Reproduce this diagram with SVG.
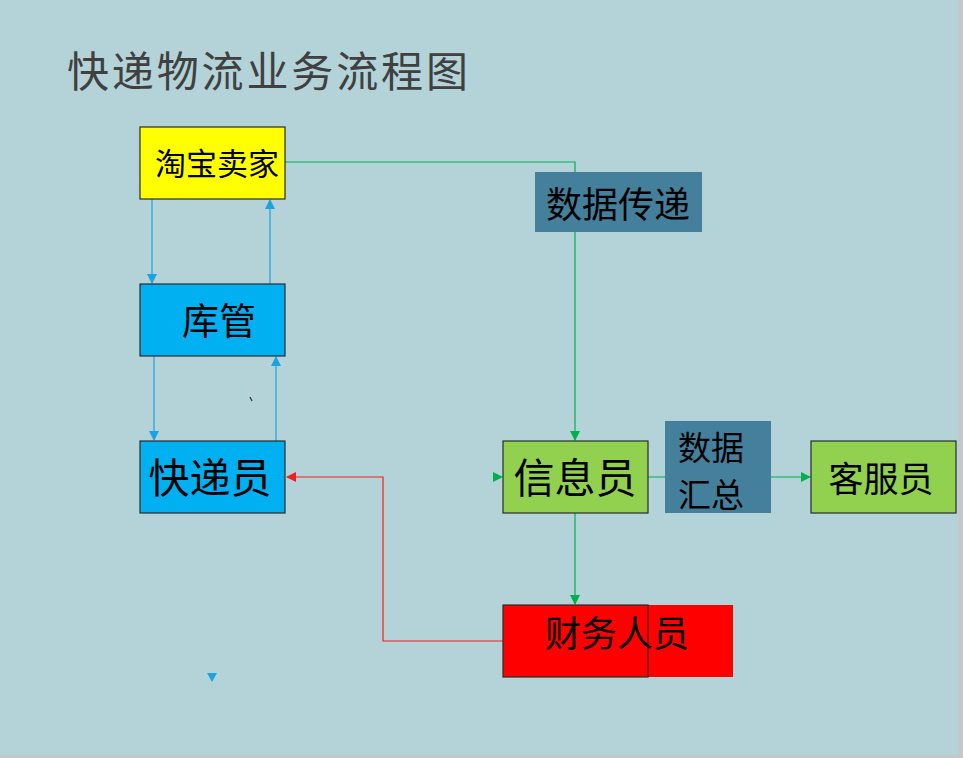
<svg xmlns="http://www.w3.org/2000/svg" width="963" height="758" viewBox="0 0 963 758">
<defs>
<style>
.t{font-family:"Noto Sans CJK SC","Noto Sans",sans-serif;fill:#000;text-anchor:middle;dominant-baseline:central}
.box{stroke:#2b2b2b;stroke-width:1.2}
.g{stroke:#00B050;stroke-width:1.2;fill:none}
.b{stroke:#1AA3E0;stroke-width:1.2;fill:none}
.r{stroke:#F02020;stroke-width:1.2;fill:none}
</style>
<marker id="ag" markerWidth="10" markerHeight="10" refX="9" refY="5" orient="auto" markerUnits="userSpaceOnUse"><path d="M0,0 L10,5 L0,10 Z" fill="#00B050"/></marker>
<marker id="ab" markerWidth="10" markerHeight="10" refX="9" refY="5" orient="auto" markerUnits="userSpaceOnUse"><path d="M0,0 L10,5 L0,10 Z" fill="#1AA3E0"/></marker>
<marker id="ar" markerWidth="10" markerHeight="10" refX="9" refY="5" orient="auto" markerUnits="userSpaceOnUse"><path d="M0,0 L10,5 L0,10 Z" fill="#F02020"/></marker>
</defs>
<rect x="0" y="0" width="963" height="758" fill="#B3D3D8"/>
<rect x="958" y="0" width="5" height="758" fill="#C4C8CA"/>
<rect x="0" y="755" width="963" height="3" fill="#C4C8CA"/>
<text x="67" y="68" font-family="'Noto Sans CJK SC',sans-serif" font-size="42" fill="#404040" dominant-baseline="central" textLength="401">快递物流业务流程图</text>

<g id="connectors">
<polyline class="g" points="285,162 575,162 575,440" marker-end="url(#ag)"/>
<line class="g" x1="648" y1="477" x2="810" y2="477" marker-end="url(#ag)"/>
<line class="g" x1="575" y1="513" x2="575" y2="604" marker-end="url(#ag)"/>
<path d="M493,472 L503,477 L493,482 Z" fill="#00B050"/>
<line class="b" x1="152" y1="199" x2="152" y2="283" marker-end="url(#ab)"/>
<line class="b" x1="270" y1="284" x2="270" y2="200" marker-end="url(#ab)"/>
<line class="b" x1="154" y1="356" x2="154" y2="440" marker-end="url(#ab)"/>
<line class="b" x1="276" y1="441" x2="276" y2="357" marker-end="url(#ab)"/>
<polyline class="r" points="503,641 383,641 383,477 287,477" marker-end="url(#ar)"/>
<path d="M207,673 L217,673 L212,682 Z" fill="#1AA3E0"/>
<line x1="250" y1="397" x2="252" y2="401" stroke="#333" stroke-width="1.2"/>
</g>

<g id="taobao">
<rect class="box" x="140" y="127" width="145" height="72" fill="#FFFF00"/>
<text class="t" x="217" y="161" font-size="31">淘宝卖家</text>
</g>
<g id="kuguan">
<rect class="box" x="140" y="284" width="145" height="72" fill="#00B0F0"/>
<text class="t" x="219" y="319" font-size="37">库管</text>
</g>
<g id="kuaidiyuan">
<rect class="box" x="140" y="441" width="145" height="72" fill="#00B0F0"/>
<text class="t" x="210" y="475" font-size="41">快递员</text>
</g>
<g id="shujuchuandi">
<rect x="535" y="172" width="167" height="60" fill="#44809C"/>
<text class="t" x="618" y="202" font-size="36">数据传递</text>
</g>
<g id="xinxiyuan">
<rect class="box" x="503" y="441" width="145" height="72" fill="#92D050"/>
<text class="t" x="575" y="475" font-size="41">信息员</text>
</g>
<g id="shujuhuizong">
<rect x="665" y="421" width="106" height="92" fill="#44809C"/>
<text class="t" x="711" y="446" font-size="33">数据</text>
<text class="t" x="711" y="493" font-size="33">汇总</text>
</g>
<g id="kefuyuan">
<rect class="box" x="811" y="441" width="145" height="72" fill="#92D050"/>
<text class="t" x="881" y="476" font-size="35">客服员</text>
</g>
<g id="caiwu">
<rect x="503" y="605" width="230" height="72" fill="#FF0000"/>
<rect class="box" x="503" y="605" width="145" height="72" fill="none"/>
<text class="t" x="617" y="631" font-size="36">财务人员</text>
</g>
</svg>
